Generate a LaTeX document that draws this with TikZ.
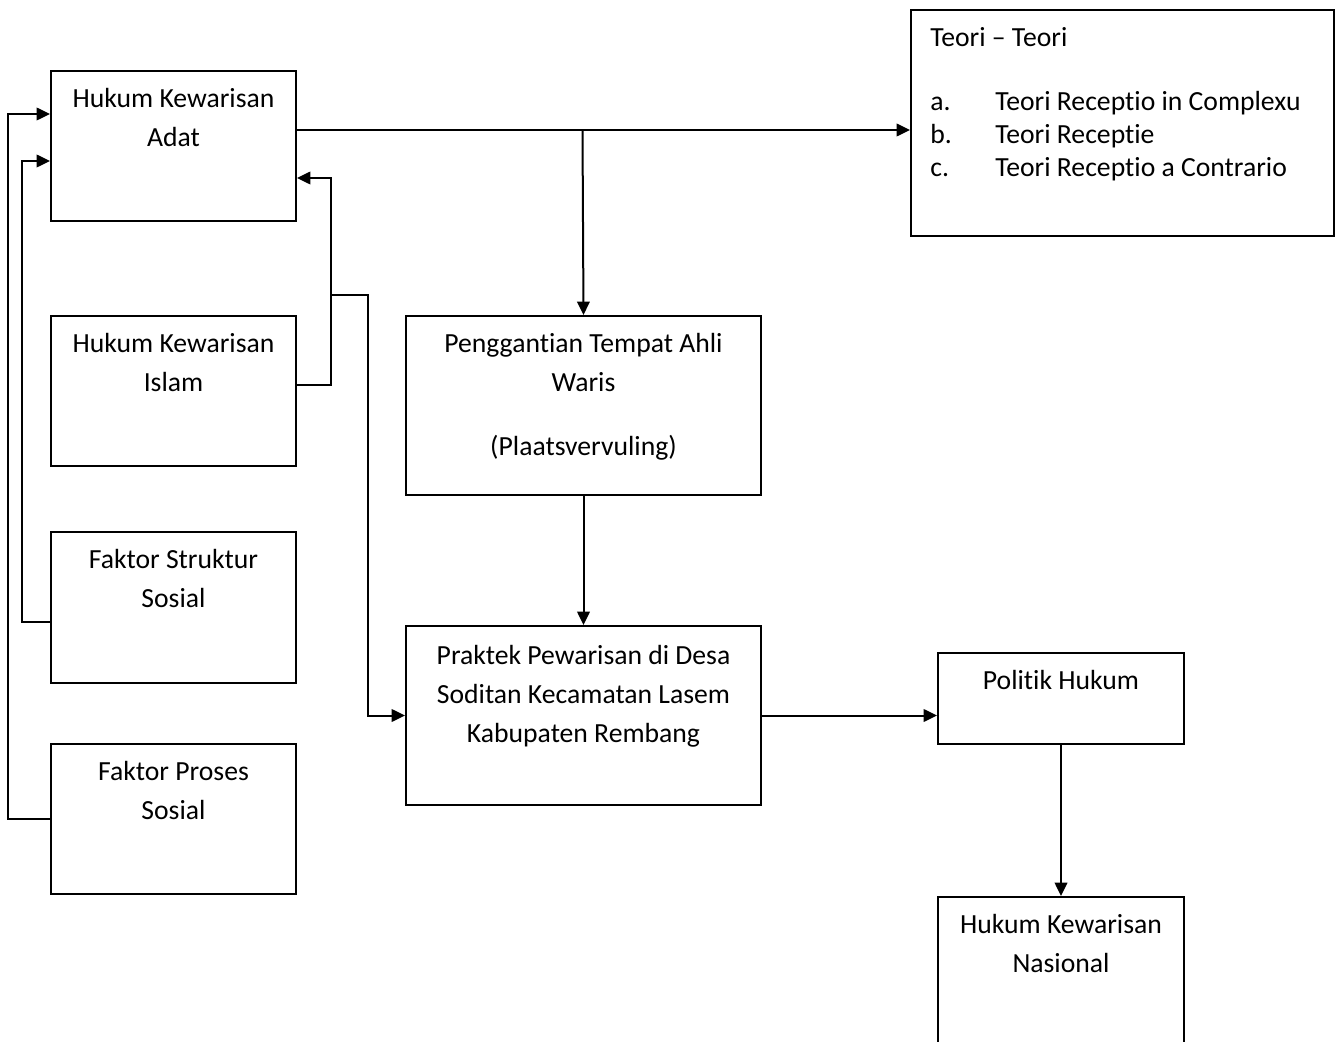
\documentclass[tikz,border=0pt]{standalone}
\usepackage{fontspec}
\setmainfont[Ligatures={TeX,NoCommon}]{Carlito}
\usetikzlibrary{arrows.meta}
\tikzset{
  box/.style={draw, line width=1.2pt, inner sep=0pt, anchor=north west},
  txt/.style={anchor=north, inner sep=0pt, yshift=-11pt, align=center,
    font=\fontsize{16.6}{23.4}\selectfont},
  arr/.style={line width=1.2pt, -{Triangle[length=8pt,width=7.5pt]}}
}
\begin{document}
\begin{tikzpicture}[x=0.6pt, y=-0.6pt]
\useasboundingbox (0,0) rectangle (1335,1042);
\clip (0,0) rectangle (1335,1042);
% kotak kiri
\node[box, minimum width=147pt, minimum height=90pt,
  label={[txt]north:{Hukum Kewarisan\\Adat}}] (adat) at (50,70) {};
\node[box, minimum width=147pt, minimum height=90pt,
  label={[txt]north:{Hukum Kewarisan\\Islam}}] (islam) at (50,315) {};
\node[box, minimum width=147pt, minimum height=90.6pt,
  label={[txt]north:{Faktor Struktur\\Sosial}}] (struktur) at (50,531) {};
\node[box, minimum width=147pt, minimum height=90pt,
  label={[txt]north:{Faktor Proses\\Sosial}}] (proses) at (50,743) {};
% kotak tengah
\node[box, minimum width=213pt, minimum height=107.4pt,
  label={[txt]north:{Penggantian Tempat Ahli\\Waris\\[15pt](Plaatsvervuling)}}] (pta) at (405,315) {};
\node[box, minimum width=213pt, minimum height=107.4pt,
  label={[txt, yshift=-1.2pt]north:{Praktek Pewarisan di Desa\\Soditan Kecamatan Lasem\\Kabupaten Rembang}}] (praktek) at (405,625) {};
% kotak kanan
\node[box, minimum width=253.8pt, minimum height=135.6pt,
  label={[txt, anchor=north west, align=left, xshift=12pt,
    font=\fontsize{16.6}{19.8}\selectfont]north west:{Teori – Teori\\[18.6pt]%
    \makebox[39pt][l]{a.}Teori Receptio in Complexu\\
    \makebox[39pt][l]{b.}Teori Receptie\\
    \makebox[39pt][l]{c.}Teori Receptio a Contrario}}] (teori) at (910,9) {};
\node[box, minimum width=147.6pt, minimum height=54.6pt,
  label={[txt]north:{Politik Hukum}}] (politik) at (937,652) {};
\node[box, minimum width=147.6pt, minimum height=150pt,
  label={[txt]north:{Hukum Kewarisan\\Nasional}}] (nasional) at (937,896) {};
% panah
\coordinate (cabang) at (582.5,130);
\coordinate (atas) at (331,178);
\coordinate (simpul) at (331,295);
\draw[arr] (adat.east |- cabang) -- (teori.west |- cabang);
\draw[arr] (cabang) -- (pta.north);
\draw[arr] (pta.south) -- (praktek.north);
\draw[arr] (praktek.east) -- (politik.west |- praktek.east);
\draw[arr] (politik.south) -- (nasional.north);
\draw[arr] ([yshift=3.6pt]islam.east) -| (atas) -- (adat.east |- atas);
\draw[arr] (simpul) -| ([xshift=-22.2pt]praktek.west) -- (praktek.west);
\draw[arr] ([yshift=-8.4pt]struktur.west) -- ++(-28,0) |- ([yshift=-9pt]adat.west);
\draw[arr] (proses.west) -- ++(-42,0) |- ([yshift=19.2pt]adat.west);
\end{tikzpicture}
\end{document}
